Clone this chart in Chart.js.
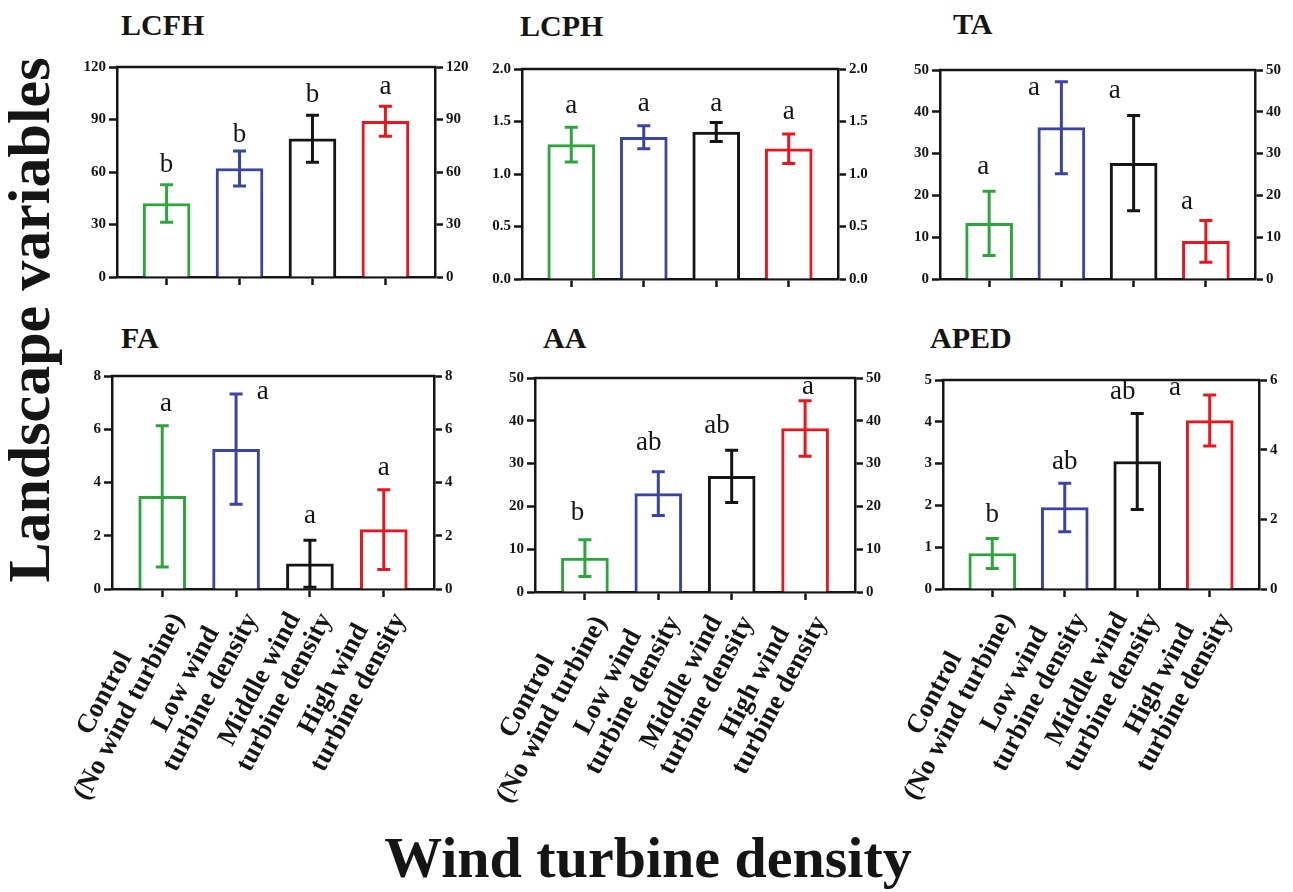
<!DOCTYPE html>
<html>
<head>
<meta charset="utf-8">
<script src="https://cdn.jsdelivr.net/npm/chart.js@4.4.0/dist/chart.umd.min.js"></script>
<style>
  body { margin: 0; background: #fff; width: 1293px; height: 892px; position: relative; overflow: hidden;
         font-family: 'Liberation Serif', 'Times New Roman', serif; color: #151515; }
  canvas { position: absolute; }
  .ttl { position: absolute; font-weight: bold; font-size: 30px; line-height: 30px; white-space: nowrap; }
  .big { position: absolute; font-weight: bold; white-space: nowrap; }
</style>
</head>
<body>
<div class="ttl" style="left:121px;top:10px">LCFH</div>
<div class="ttl" style="left:520px;top:11px">LCPH</div>
<div class="ttl" style="left:953px;top:9px">TA</div>
<div class="ttl" style="left:121px;top:323px">FA</div>
<div class="ttl" style="left:543px;top:323px">AA</div>
<div class="ttl" style="left:930px;top:323px">APED</div>
<div class="big" style="font-size:60px;line-height:60px;left:29px;top:320px;transform:translate(-50%,-50%) rotate(-90deg)">Landscape variables</div>
<div class="big" style="font-size:58px;line-height:58px;left:648px;top:829px;transform:translateX(-50%)">Wind turbine density</div>

<script>
// groups on the x axis
const groups = [
  ['Control', '(No wind turbine)'],
  ['Low wind', 'turbine density'],
  ['Middle wind', 'turbine density'],
  ['High wind', 'turbine density']
];
const barColors = ['#2ea53c', '#3b44a2', '#151515', '#e8161f'];

// LCFH
const lcfhMean = [42, 62, 79, 89];
const lcfhSd = [10.7, 10, 13.4, 8.6];
const lcfhLetters = ['b', 'b', 'b', 'a'];
const lcfhLetterX = [0, 1, 2, 3];
const lcfhLetterY = [64, 81, 104, 108.5];

// LCPH
const lcphMean = [1.28, 1.35, 1.40, 1.24];
const lcphSd = [0.165, 0.11, 0.09, 0.14];
const lcphLetters = ['a', 'a', 'a', 'a'];
const lcphLetterX = [0, 1, 2, 3];
const lcphLetterY = [1.65, 1.67, 1.67, 1.59];

// TA
const taMean = [13.3, 36.2, 27.7, 9.0];
const taSd = [7.7, 11, 11.4, 5];
const taLetters = ['a', 'a', 'a', 'a'];
const taLetterX = [-0.08, 0.62, 1.74, 2.74];
const taLetterY = [26.8, 45.8, 45.0, 18.5];

// FA
const faMean = [3.48, 5.25, 0.95, 2.23];
const faSd = [2.65, 2.07, 0.88, 1.5];
const faLetters = ['a', 'a', 'a', 'a'];
const faLetterX = [0.05, 1.36, 2, 3];
const faLetterY = [6.95, 7.41, 2.73, 4.54];

// AA
const aaMean = [7.9, 23, 27, 38.2];
const aaSd = [4.3, 5.1, 6.1, 6.5];
const aaLetters = ['b', 'ab', 'ab', 'a'];
const aaLetterX = [-0.1, 0.87, 1.8, 3.04];
const aaLetterY = [18.4, 34.8, 38.7, 47.9];

// APED (right axis has its own range)
const apedMean = [0.85, 1.95, 3.05, 4.03];
const apedSd = [0.36, 0.58, 1.15, 0.61];
const apedLetters = ['b', 'ab', 'ab', 'a'];
const apedLetterX = [0, 1, 1.8, 2.52];
const apedLetterY = [1.78, 3.05, 4.72, 4.8];

const padL = 30, axL = 50, axR = 45, padR = 10, padT = 12, axB = 10;
const ink = '#151515';
const tickFont = { family: 'Liberation Serif', weight: 'bold', size: 15 };
const labelAngle = 62 * Math.PI / 180;

function yAxis(pos, min, max, step, fmt) {
  return {
    position: pos, min: min, max: max,
    afterFit: s => { s.width = pos === 'left' ? axL : axR; s.paddingTop = 0; s.paddingBottom = 0; },
    ticks: { stepSize: step, color: ink, font: tickFont, padding: 3, callback: fmt || (v => v) },
    grid: { drawOnChartArea: false, drawTicks: true, tickLength: 8, tickColor: ink, tickWidth: 2.5 },
    border: { display: true, color: ink, width: 2.5 }
  };
}

function decoPlugin(mean, sd, letters, lx, ly, withLabels) {
  return {
    id: 'deco',
    afterDatasetsDraw(chart) {
      const { ctx, chartArea: a, scales: { x, y } } = chart;
      ctx.save();
      // top frame line
      ctx.strokeStyle = ink;
      ctx.lineWidth = 2.5;
      ctx.beginPath();
      ctx.moveTo(a.left - 1.25, a.top);
      ctx.lineTo(a.right + 1.25, a.top);
      ctx.stroke();
      // error bars
      ctx.lineWidth = 3;
      mean.forEach((m, i) => {
        const px = x.getPixelForValue(i);
        const t = y.getPixelForValue(m + sd[i]);
        const b = y.getPixelForValue(m - sd[i]);
        ctx.strokeStyle = barColors[i];
        ctx.beginPath();
        ctx.moveTo(px, t); ctx.lineTo(px, b);
        ctx.moveTo(px - 6.5, t); ctx.lineTo(px + 6.5, t);
        ctx.moveTo(px - 6.5, b); ctx.lineTo(px + 6.5, b);
        ctx.stroke();
      });
      // significance letters
      ctx.fillStyle = ink;
      ctx.font = '27px "Liberation Serif"';
      ctx.textAlign = 'center';
      ctx.textBaseline = 'middle';
      letters.forEach((l, i) => {
        ctx.fillText(l, x.getPixelForValue(lx[i]), y.getPixelForValue(ly[i]));
      });
      // rotated group labels
      if (withLabels) {
        ctx.font = 'bold 27px "Liberation Serif"';
        ctx.textBaseline = 'top';
        groups.forEach((lines, i) => {
          const px = x.getPixelForValue(i);
          const w = Math.max(...lines.map(s => ctx.measureText(s).width));
          ctx.save();
          ctx.translate(px + 4, a.bottom + 20);
          ctx.rotate(-labelAngle);
          lines.forEach((s, j) => ctx.fillText(s, -w / 2, (j - lines.length + 1) * 28));
          ctx.restore();
        });
      }
      ctx.restore();
    }
  };
}

function panel(rect, mean, sd, letters, lx, ly, left, right, withLabels) {
  const padB = withLabels ? 250 : 4;
  const w = padL + axL + rect.w + axR + padR;
  const h = padT + rect.h + axB + padB;
  const cv = document.createElement('canvas');
  cv.width = w; cv.height = h;
  cv.style.left = (rect.x - padL - axL) + 'px';
  cv.style.top = (rect.y - padT) + 'px';
  cv.style.width = w + 'px';
  cv.style.height = h + 'px';
  document.body.appendChild(cv);

  new Chart(cv, {
    type: 'bar',
    data: {
      datasets: [{
        data: mean.map((v, i) => ({ x: i, y: v })),
        backgroundColor: '#ffffff',
        borderColor: barColors,
        borderWidth: 3,
        borderSkipped: 'start',
        barThickness: 47,
        yAxisID: 'y'
      }]
    },
    options: {
      responsive: false,
      devicePixelRatio: 1,
      animation: false,
      events: [],
      layout: { padding: { left: padL, right: padR, top: padT, bottom: padB } },
      plugins: { legend: { display: false }, tooltip: { enabled: false } },
      scales: {
        x: {
          type: 'linear', min: -0.68, max: 3.68, offset: false,
          afterBuildTicks: s => { s.ticks = [0, 1, 2, 3].map(v => ({ value: v })); },
          afterFit: s => { s.height = axB; s.paddingLeft = 0; s.paddingRight = 0; },
          ticks: { display: false },
          grid: { offset: false, drawOnChartArea: false, drawTicks: true, tickLength: 8, tickColor: ink, tickWidth: 2.5 },
          border: { display: true, color: ink, width: 2.5 }
        },
        y: left,
        y2: right
      }
    },
    plugins: [decoPlugin(mean, sd, letters, lx, ly, withLabels)]
  });
}

const oneDec = v => v.toFixed(1);

panel({ x: 117, y: 67, w: 318, h: 210 }, lcfhMean, lcfhSd, lcfhLetters, lcfhLetterX, lcfhLetterY,
  yAxis('left', 0, 120, 30), yAxis('right', 0, 120, 30), false);
panel({ x: 522, y: 69, w: 316, h: 210 }, lcphMean, lcphSd, lcphLetters, lcphLetterX, lcphLetterY,
  yAxis('left', 0, 2, 0.5, oneDec), yAxis('right', 0, 2, 0.5, oneDec), false);
panel({ x: 940, y: 70, w: 315, h: 209 }, taMean, taSd, taLetters, taLetterX, taLetterY,
  yAxis('left', 0, 50, 10), yAxis('right', 0, 50, 10), false);
panel({ x: 112, y: 376, w: 322, h: 213 }, faMean, faSd, faLetters, faLetterX, faLetterY,
  yAxis('left', 0, 8, 2), yAxis('right', 0, 8, 2), true);
panel({ x: 535, y: 378, w: 320, h: 214 }, aaMean, aaSd, aaLetters, aaLetterX, aaLetterY,
  yAxis('left', 0, 50, 10), yAxis('right', 0, 50, 10), true);
panel({ x: 943, y: 380, w: 316, h: 209 }, apedMean, apedSd, apedLetters, apedLetterX, apedLetterY,
  yAxis('left', 0, 5, 1), yAxis('right', 0, 6, 2), true);
</script>
</body>
</html>
